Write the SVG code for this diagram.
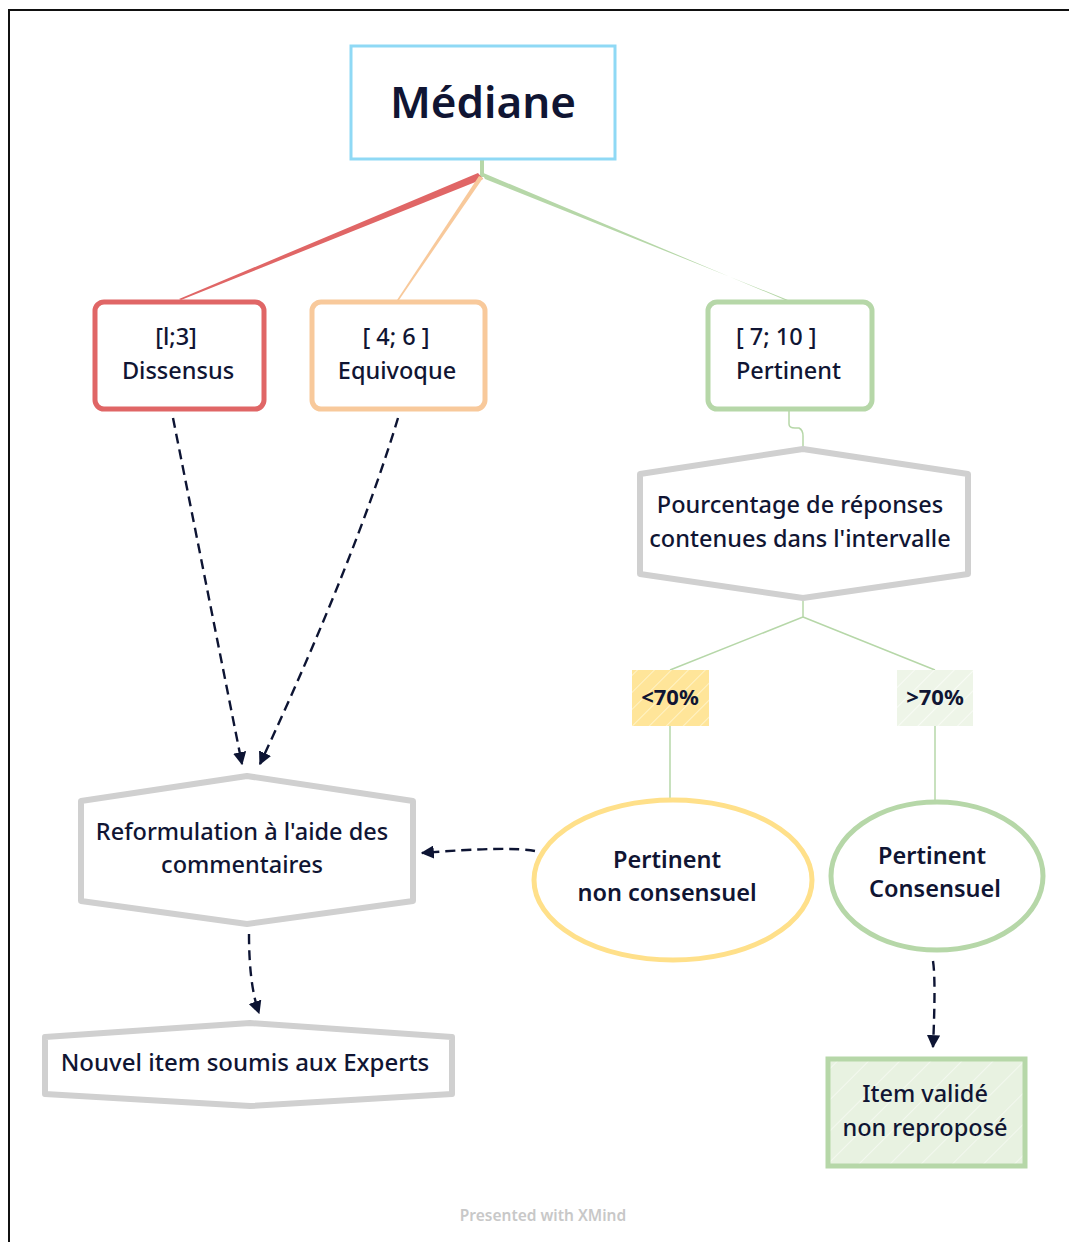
<svg xmlns="http://www.w3.org/2000/svg" width="1069" height="1242" viewBox="0 0 1069 1242">
<style>
  text { font-family: "Noto Sans", "Open Sans", sans-serif; fill: #101533; text-anchor: middle; }
  .lbl { font-size: 23.5px; font-weight: 500; }
  .hex { fill: #ffffff; stroke: #d0d0d0; stroke-width: 6; stroke-linejoin: round; }
  .thin { fill: none; stroke: #b6d7a8; stroke-width: 1.5; }
  .dash { fill: none; stroke: #0d1433; stroke-width: 2.4; stroke-dasharray: 10 6; marker-end: url(#arr); }
</style>
<defs>
  <marker id="arr" viewBox="0 0 10 10" refX="9" refY="5" markerWidth="5.5" markerHeight="5.5" orient="auto" markerUnits="strokeWidth">
    <path d="M0,0 L10,5 L0,10 Z" fill="#0d1433"/>
  </marker>
  <pattern id="hatchY" patternUnits="userSpaceOnUse" width="12" height="12" patternTransform="rotate(45)">
    <rect width="12" height="12" fill="#ffe599"/>
    <line x1="0" y1="0" x2="0" y2="12" stroke="#fff3c8" stroke-width="2"/>
  </pattern>
  <pattern id="hatchG" patternUnits="userSpaceOnUse" width="14" height="14" patternTransform="rotate(45)">
    <rect width="14" height="14" fill="#eef5e8"/>
    <line x1="0" y1="0" x2="0" y2="14" stroke="#f8fbf5" stroke-width="2"/>
  </pattern>
  <pattern id="hatchV" patternUnits="userSpaceOnUse" width="22" height="22" patternTransform="rotate(45)">
    <rect width="22" height="22" fill="#e8f2e1"/>
    <line x1="0" y1="0" x2="0" y2="22" stroke="#f7fbf4" stroke-width="1.5"/>
  </pattern>
</defs>

<rect width="1069" height="1242" fill="#ffffff"/>
<!-- frame -->
<path d="M9,1242 L9,10 L1069,10" fill="none" stroke="#111" stroke-width="2"/>

<g id="connectors">
  <!-- root stem and branches -->
  <line x1="482" y1="159" x2="482" y2="177" stroke="#b6d7a8" stroke-width="4"/>
  <polygon points="478,173 483,179 181,300 179,299" fill="#e06666"/>
  <polygon points="479,176 483,178 399,300 397,300" fill="#f8c99b"/>
  <polygon points="481,172 485,179 788,300 785,300" fill="#b6d7a8"/>
  <!-- Pertinent to Pourcentage -->
  <path class="thin" d="M789,411 L789,424 Q789,428 795,428 L799,428 Q803,430 803,436 L803,448"/>
  <!-- Pourcentage to percentages -->
  <path class="thin" d="M803,600 L803,617 L670,670 M803,617 L935,670"/>
  <line class="thin" x1="670" y1="726" x2="670" y2="799"/>
  <line class="thin" x1="935" y1="726" x2="935" y2="802"/>
  <!-- dashed arrows -->
  <path class="dash" d="M173,418 L242,764"/>
  <path class="dash" d="M398,418 Q355,560 260,764"/>
  <path class="dash" d="M535,851 Q510,846 422,853"/>
  <path class="dash" d="M249,934 Q249,985 259,1013"/>
  <path class="dash" d="M933,961 Q936,980 933,1047"/>
</g>

<g id="node-mediane">
  <rect x="351" y="46" width="264" height="113" fill="#fff" stroke="#8fd9f5" stroke-width="3"/>
  <text x="483" y="118" style="font-size:44px; font-weight:600">Médiane</text>
</g>

<g id="node-dissensus">
  <rect x="95" y="302" width="169" height="107" rx="9" fill="#fff" stroke="#e06666" stroke-width="5"/>
  <text class="lbl" x="176" y="345">[l;3]</text>
  <text class="lbl" x="178" y="379">Dissensus</text>
</g>

<g id="node-equivoque">
  <rect x="312" y="302" width="173" height="107" rx="9" fill="#fff" stroke="#f8c99b" stroke-width="5"/>
  <text class="lbl" x="396" y="345">[ 4; 6 ]</text>
  <text class="lbl" x="397" y="379">Equivoque</text>
</g>

<g id="node-pertinent">
  <rect x="708" y="302" width="164" height="107" rx="9" fill="#fff" stroke="#b6d7a8" stroke-width="5"/>
  <text class="lbl" x="736" y="345" style="text-anchor:start">[ 7; 10 ]</text>
  <text class="lbl" x="736" y="379" style="text-anchor:start">Pertinent</text>
</g>

<g id="node-pourcentage">
  <path class="hex" d="M803,449 L968,474 L968,574 L803,598 L640,574 L640,474 Z"/>
  <text class="lbl" x="800" y="513">Pourcentage de réponses</text>
  <text class="lbl" x="800" y="547">contenues dans l'intervalle</text>
</g>

<g id="node-lt70">
  <rect x="632" y="670" width="77" height="56" fill="url(#hatchY)"/>
  <text x="670" y="705" style="font-size:22px; font-weight:700">&lt;70%</text>
</g>

<g id="node-gt70">
  <rect x="897" y="670" width="76" height="56" fill="url(#hatchG)"/>
  <text x="935" y="705" style="font-size:22px; font-weight:700">&gt;70%</text>
</g>

<g id="node-non-consensuel">
  <ellipse cx="673" cy="880" rx="139" ry="80" fill="#fff" stroke="#ffe08a" stroke-width="5"/>
  <text class="lbl" x="667" y="868" style="font-weight:600">Pertinent</text>
  <text class="lbl" x="667" y="901" style="font-weight:600">non consensuel</text>
</g>

<g id="node-consensuel">
  <ellipse cx="937" cy="876" rx="106" ry="74" fill="#fff" stroke="#b6d7a8" stroke-width="5"/>
  <text class="lbl" x="932" y="864" style="font-weight:600">Pertinent</text>
  <text class="lbl" x="935" y="897" style="font-weight:600">Consensuel</text>
</g>

<g id="node-reformulation">
  <path class="hex" d="M247,776 L413,801 L413,901 L247,924 L81,901 L81,801 Z"/>
  <text class="lbl" x="242" y="840">Reformulation à l'aide des</text>
  <text class="lbl" x="242" y="873">commentaires</text>
</g>

<g id="node-nouvel-item">
  <path class="hex" d="M250,1023 L452,1037 L452,1094 L250,1106 L45,1094 L45,1037 Z"/>
  <text class="lbl" x="245" y="1071" style="font-size:24px">Nouvel item soumis aux Experts</text>
</g>

<g id="node-item-valide">
  <rect x="828" y="1059" width="197" height="107" fill="url(#hatchV)" stroke="#b6d7a8" stroke-width="5"/>
  <text class="lbl" x="925" y="1102">Item validé</text>
  <text class="lbl" x="925" y="1136">non reproposé</text>
</g>

<text x="543" y="1221" style="font-size:15.5px; font-weight:600; fill:#c8c8c8">Presented with XMind</text>
</svg>
